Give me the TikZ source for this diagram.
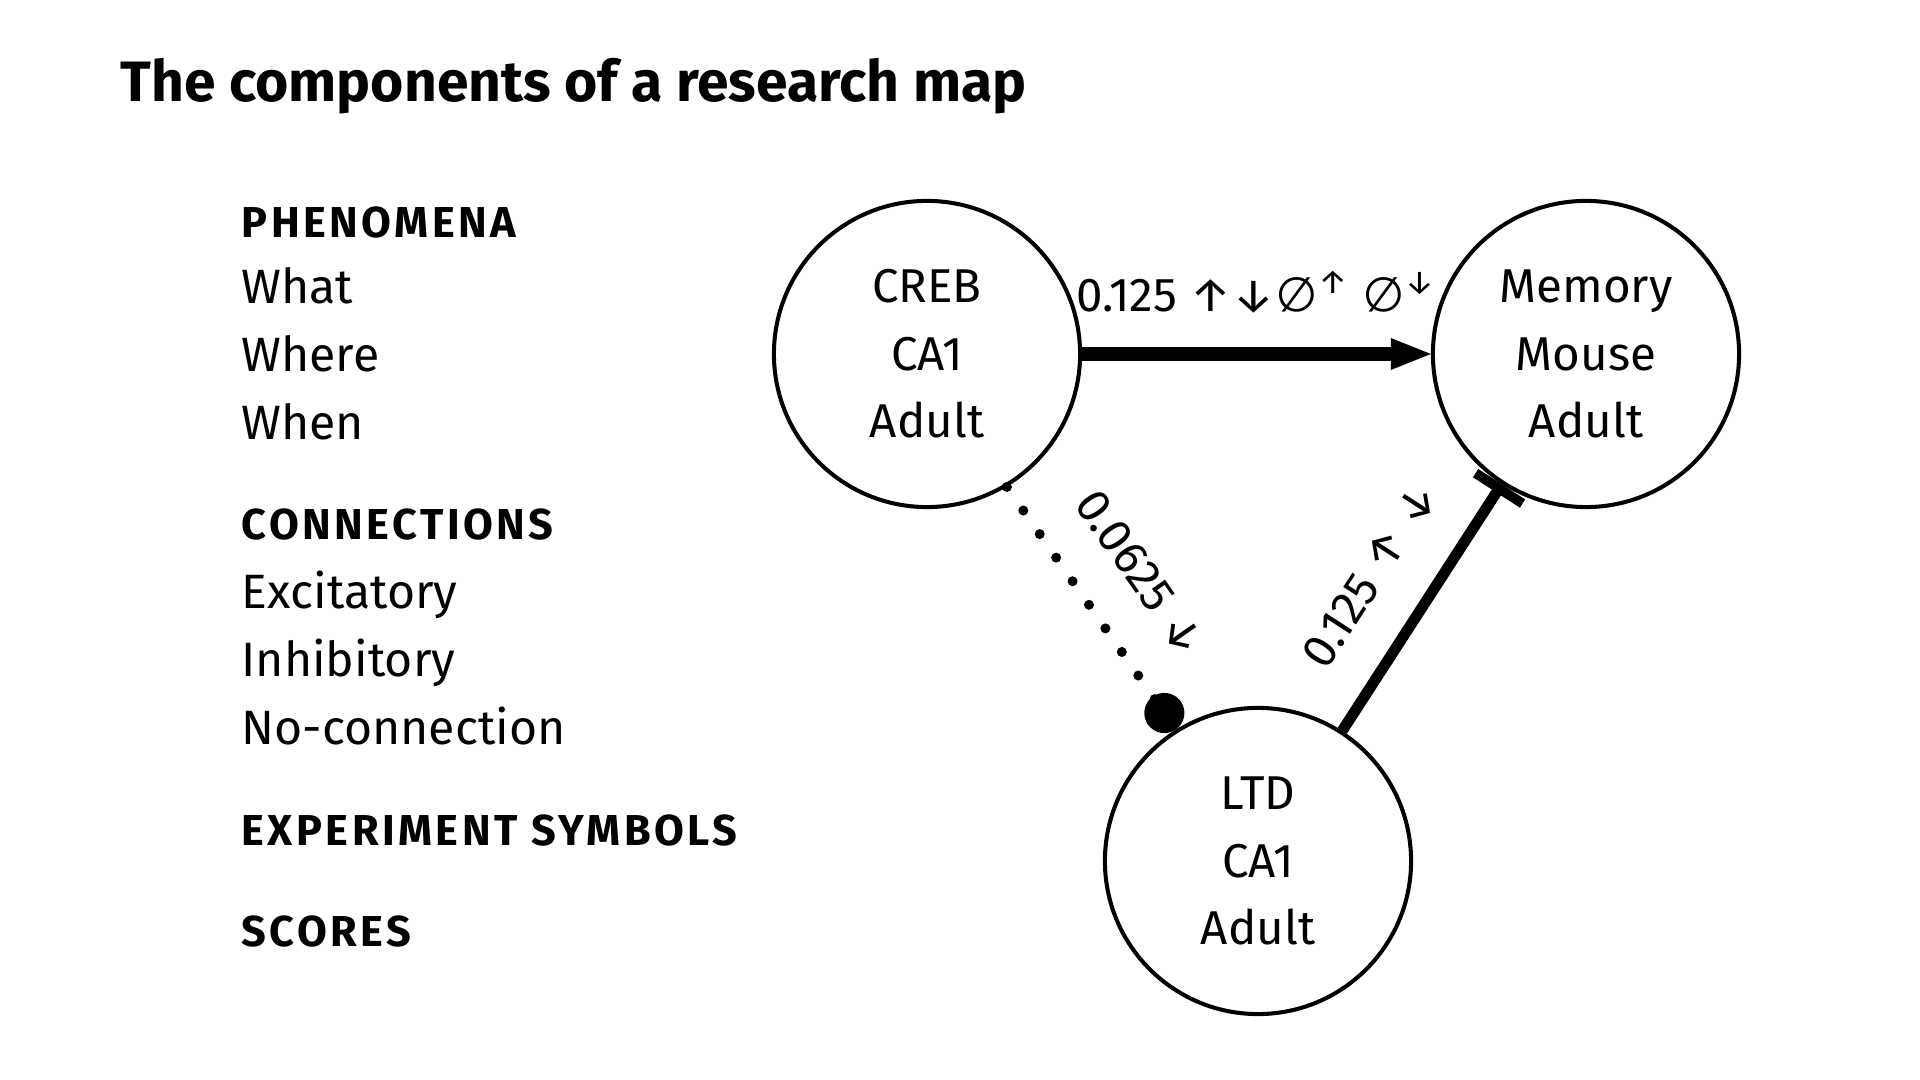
\documentclass[tikz,border=0pt]{standalone}
\usepackage{fontspec}
\setmainfont{Fira Sans}
\newfontfamily\headfont[LetterSpace=8]{Fira Sans}
\usetikzlibrary{arrows.meta,positioning}

\begin{document}
\begin{tikzpicture}[x=0.01cm,y=-0.01cm,
                    main node/.style={circle,draw,line width=1.15pt,minimum size=3.06cm,inner sep=0pt,align=center,font=\fontsize{13.5}{19.2}\selectfont},
                    head/.style={anchor=base west,inner sep=0pt,font=\headfont\bfseries\fontsize{12.3}{14}\selectfont},
                    item/.style={anchor=base west,inner sep=0pt,font=\fontsize{13.7}{16}\selectfont},
                    score/.style={inner sep=0pt,text depth=0pt,font=\fontsize{13.5}{16}\selectfont},
                    excit/.style={line width=4pt,-{Triangle[length=11.4pt,width=9.1pt,line width=0pt]}},
                    inhib/.style={line width=3.1pt,-{Bar[width=15.9pt,line width=2.8pt]}},
                    noconn/.style={line width=2.85pt,line cap=round,dash pattern=on 0pt off 8.17pt,-{Circle[length=11.4pt]}}]
  \useasboundingbox (0,0) rectangle (1920,1080);

  \node[anchor=base west,inner sep=0pt,font=\bfseries\fontsize{16.2}{20}\selectfont] (title) at (120,101.6) {The components of a research map};

  % left column
  \node[head] (phen) at (241,238) {PHENOMENA};
  \node[item,below=0.65cm of phen.base west,anchor=base west] (what) {What};
  \node[item,below=0.68cm of what.base west,anchor=base west] (where) {Where};
  \node[item,below=0.68cm of where.base west,anchor=base west] (when) {When};
  \node[head,below=1.00cm of when.base west,anchor=base west] (conn) {CONNECTIONS};
  \node[item,below=0.69cm of conn.base west,anchor=base west] (exc) {Excitatory};
  \node[item,below=0.68cm of exc.base west,anchor=base west] (inh) {Inhibitory};
  \node[item,below=0.68cm of inh.base west,anchor=base west] (none) {No-connection};
  \node[head,below=1.01cm of none.base west,anchor=base west] (expsym) {EXPERIMENT SYMBOLS};
  \node[head,below=1.01cm of expsym.base west,anchor=base west] (scores) {SCORES};

  % the map
  \node[main node] (creb) at (927,354) {CREB\\CA1\\Adult};
  \node[main node] (memory) at (1586,354) {Memory\\Mouse\\Adult};
  \node[main node] (ltd) at (1258,861) {LTD\\CA1\\Adult};

  \draw[excit] (creb) -- node[score,above=0.35cm] (lblexc) {0.125 ↑↓∅\textsuperscript{↑} ∅\textsuperscript{↓}} (memory);
  \draw[noconn] (creb.-59) -- node[score,sloped,above=0.40cm] (lblnone) {0.0625 ↓} (ltd.122);
  \draw[inhib] (ltd) -- node[score,sloped,above=0.40cm] (lblinh) {0.125 ↑ ↓} (memory);
\end{tikzpicture}
\end{document}
